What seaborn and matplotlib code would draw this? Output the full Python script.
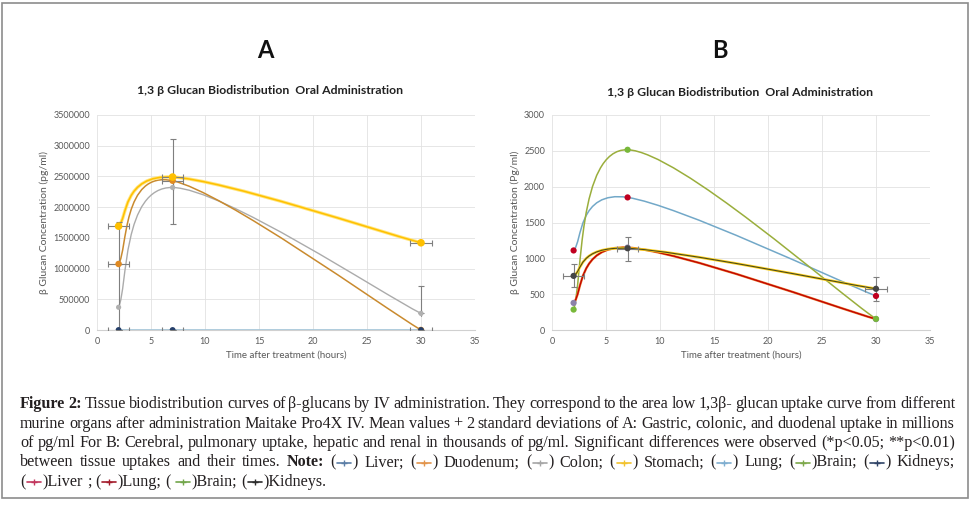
import re
import numpy as np
import pandas as pd
import matplotlib
matplotlib.use("Agg")
import matplotlib.pyplot as plt
import seaborn as sns
from matplotlib.path import Path
from matplotlib.patches import PathPatch, Rectangle
from matplotlib.lines import Line2D
from matplotlib.ticker import FuncFormatter

# ---- data ------------------------------------------------------------------
time_h = [2, 7, 30]

# panel A, pg/ml
a_stomach = [1690000, 2490000, 1420000]
a_duodenum = [1075000, 2430000, 0]
a_colon = [370000, 2320000, 270000]
a_lung = [0, 0, 0]
a_liver = [0, 0, 0]

# panel B, pg/ml
b_lung = [1110, 1850, 475]
b_brain = [285, 2515, 155]
b_liver = [378, 1150, 152]
b_kidneys = [755, 1140, 575]

# error bars: x, y, x error, y error below, y error above
a_err_x = [2, 2, 2, 7, 7, 7, 7, 30, 30, 30]
a_err_y = [1690000, 1075000, 0, 2490000, 2430000, 2320000, 0, 1420000, 270000, 0]
a_err_dx = [1, 1, 1, 1, 1, 0, 1, 1, 0, 1]
a_err_lo = [1690000, 0, 0, 0, 0, 600000, 0, 0, 0, 0]
a_err_hi = [70000, 0, 0, 0, 0, 790000, 0, 0, 440000, 0]

b_err_x = [2, 7, 30]
b_err_y = [755, 1135, 575]
b_err_dx = [1, 1, 1]
b_err_lo = [160, 170, 165]
b_err_hi = [160, 165, 165]

a_ticks = [0, 500000, 1000000, 1500000, 2000000, 2500000, 3000000, 3500000]
b_ticks = [0, 500, 1000, 1500, 2000, 2500, 3000]
x_ticks = [0, 5, 10, 15, 20, 25, 30, 35]

title_text = "1,3 \u03b2 Glucan Biodistribution  Oral Administration"

caption_lines = [
    "Figure 2: Tissue biodistribution curves of \u03b2-glucans by IV administration. They correspond to the area low 1,3\u03b2- glucan uptake curve from different",
    "murine organs after administration Maitake Pro4X IV. Mean values + 2 standard deviations of A: Gastric, colonic, and duodenal uptake in millions",
    "of pg/ml For B: Cerebral, pulmonary uptake, hepatic and renal in thousands of pg/ml. Significant differences were observed (*p<0.05; **p<0.01)",
    "between tissue uptakes and their times. Note: ({0}) Liver; ({1}) Duodenum; ({2}) Colon; ({3}) Stomach; ({4}) Lung; ({5})Brain; ({6}) Kidneys;",
    "({7})Liver ; ({8})Lung; ( {9})Brain; ({10})Kidneys.",
]
caption_bold = ["Figure", "2:", "Note:"]
caption_sym_colors = ["#5b7ea6", "#e2944b", "#a6a6a6", "#f2c22e", "#7faed0",
                      "#7da84a", "#2f4366", "#c2375e", "#a31b2b", "#72a64a", "#2b2b2b"]

W, H = 971, 507


def fx(px):
    return px / W


def fy(py):
    return 1 - py / H


def smooth_path(xs, ys):
    # Excel style smoothed line (Catmull-Rom as cubic Bezier)
    pts = [np.array([x, y], dtype=float) for x, y in zip(xs, ys)]
    verts = [pts[0]]
    codes = [Path.MOVETO]
    n = len(pts)
    for i in range(n - 1):
        p0 = pts[i - 1] if i > 0 else pts[i]
        p1, p2 = pts[i], pts[i + 1]
        p3 = pts[i + 2] if i + 2 < n else p2
        verts += [p1 + (p2 - p0) / 6, p2 - (p3 - p1) / 6, p2]
        codes += [Path.CURVE4] * 3
    return Path(verts, codes)


def draw_curve(ax, ys, color, lw, z=3):
    ax.add_patch(PathPatch(smooth_path(time_h, ys), facecolor="none",
                           edgecolor=color, lw=lw, zorder=z, capstyle="round"))


def style_axes(ax, ticks, ylabel, fmt):
    ax.set_xlim(0, 35)
    ax.set_ylim(ticks[0], ticks[-1])
    ax.set_xticks(x_ticks)
    ax.set_yticks(ticks)
    ax.yaxis.set_major_formatter(FuncFormatter(fmt))
    ax.grid(True, color="#e2e2e2", lw=0.6)
    ax.set_axisbelow(True)
    for s in ["top", "right", "left"]:
        ax.spines[s].set_visible(False)
    ax.spines["bottom"].set_color("#d0d0d0")
    ax.spines["bottom"].set_linewidth(0.8)
    ax.tick_params(length=0, labelsize=6.5, labelcolor="#595959", pad=5)
    ax.set_xlabel("Time after treatment (hours)", fontsize=7, color="#595959", labelpad=3)
    ax.set_ylabel(ylabel, fontsize=7.5, color="#595959", labelpad=3)


sns.set_style("white")
plt.rcParams["font.family"] = ["Lato", "DejaVu Sans"]

fig = plt.figure(figsize=(W / 100, H / 100), dpi=100)
fig.patch.set_facecolor("white")
fig.add_artist(Rectangle((fx(2), fy(498)), fx(966), 495 / H, transform=fig.transFigure,
                         facecolor="none", edgecolor="#8c8c8c", lw=1.2))

ax_a = fig.add_axes([fx(97), fy(330), fx(378), (330 - 115) / H])
ax_b = fig.add_axes([fx(552), fy(330), fx(378), (330 - 115) / H])

# ---- panel A ---------------------------------------------------------------
draw_curve(ax_a, a_lung, "#a9c8da", 1.3, z=2.6)
draw_curve(ax_a, a_colon, "#ababab", 1.0)
draw_curve(ax_a, a_duodenum, "#c98a2e", 1.1)
draw_curve(ax_a, a_stomach, "#ffe680", 2.4)
draw_curve(ax_a, a_stomach, "#ffc000", 1.1)

ax_a.errorbar(a_err_x, a_err_y, xerr=a_err_dx, yerr=[a_err_lo, a_err_hi], fmt="none",
              ecolor="#7f7f7f", elinewidth=0.8, capsize=2.5, capthick=0.8, zorder=4)

df_a = pd.DataFrame({
    "time": time_h * 4,
    "conc": a_colon + a_duodenum + a_stomach + a_liver,
    "organ": ["Colon"] * 3 + ["Duodenum"] * 3 + ["Stomach"] * 3 + ["Liver"] * 3,
})
sns.scatterplot(data=df_a, x="time", y="conc", hue="organ", size="organ",
                palette={"Colon": "#b0b0b0", "Duodenum": "#e08a22", "Stomach": "#ffc000", "Liver": "#26406a"},
                sizes={"Colon": 14, "Duodenum": 22, "Stomach": 30, "Liver": 18},
                edgecolor="none", legend=False, ax=ax_a, zorder=5)
style_axes(ax_a, a_ticks, "\u03b2 Glucan Concentration (pg/ml)", lambda v, p: f"{v:.0f}")

# ---- panel B ---------------------------------------------------------------
draw_curve(ax_b, b_lung, "#72a8c8", 1.1)
draw_curve(ax_b, b_brain, "#9aae3c", 1.1)
draw_curve(ax_b, b_liver, "#e8742a", 1.7)
draw_curve(ax_b, b_liver, "#c00000", 0.9)
draw_curve(ax_b, b_kidneys, "#ffd21f", 1.9)
draw_curve(ax_b, b_kidneys, "#4a4a1a", 0.8)

ax_b.errorbar(b_err_x, b_err_y, xerr=b_err_dx, yerr=[b_err_lo, b_err_hi], fmt="none",
              ecolor="#7f7f7f", elinewidth=0.8, capsize=2.5, capthick=0.8, zorder=4)

df_b = pd.DataFrame({
    "time": time_h * 4,
    "conc": b_liver + b_lung + b_kidneys + b_brain,
    "organ": ["Liver"] * 3 + ["Lung"] * 3 + ["Kidneys"] * 3 + ["Brain"] * 3,
})
sns.scatterplot(data=df_b, x="time", y="conc", hue="organ",
                palette={"Liver": "#8c82a8", "Lung": "#c00020", "Kidneys": "#454545", "Brain": "#78b83a"},
                s=20, edgecolor="none", legend=False, ax=ax_b, zorder=5)
style_axes(ax_b, b_ticks, "\u03b2 Glucan Concentration (Pg/ml)", lambda v, p: f"{v:.0f}")

# ---- titles ---------------------------------------------------------------
fig.text(fx(265), fy(50), "A", ha="center", va="center", fontsize=17, fontweight="bold", color="#111111")
fig.text(fx(720), fy(50), "B", ha="center", va="center", fontsize=17, fontweight="bold", color="#111111")
fig.text(fx(270), fy(91), title_text, ha="center", va="center", fontsize=8.8, fontweight="bold", color="#222222")
fig.text(fx(740), fy(93), title_text, ha="center", va="center", fontsize=8.8, fontweight="bold", color="#222222")

# ---- caption with inline legend symbols ---------------------------------
renderer = fig.canvas.get_renderer()
cap_font = dict(fontsize=11.6, family=["Liberation Serif", "DejaVu Serif"], color="#231f20")
sym_w = 17
cap_left, cap_right = 20, 955
cap_y = [404, 423.5, 443, 462.5, 482]


def text_width(s, bold):
    t = fig.text(0, 0, s, fontweight="bold" if bold else "normal", **cap_font)
    w = t.get_window_extent(renderer).width
    t.remove()
    return w


space_w = text_width("a a", False) - text_width("aa", False)

for li, line in enumerate(caption_lines):
    words = line.split(" ")
    items = []
    for w in words:
        bold = w in caption_bold
        parts = [p for p in re.split(r"(\{\d+\})", w) if p]
        widths = [sym_w if re.fullmatch(r"\{\d+\}", p) else text_width(p, bold) for p in parts]
        items.append((parts, widths, bold))
    total = sum(sum(wd) for _, wd, _ in items)
    justify = li < len(caption_lines) - 1
    gap = (cap_right - cap_left - total) / (len(items) - 1) if justify else space_w
    x = cap_left
    base = cap_y[li] + 4
    for parts, widths, bold in items:
        for p, wd in zip(parts, widths):
            m = re.fullmatch(r"\{(\d+)\}", p)
            if m:
                c = caption_sym_colors[int(m.group(1))]
                ym = fy(base - 4)
                fig.add_artist(Line2D([fx(x + 1.5), fx(x + wd - 1.5)], [ym, ym], color=c, lw=1.2,
                                      transform=fig.transFigure))
                fig.add_artist(Line2D([fx(x + wd / 2)], [ym], color=c, marker="+", ms=4, mew=1,
                                      transform=fig.transFigure))
            else:
                fig.text(fx(x), fy(base), p, ha="left", va="baseline",
                         fontweight="bold" if bold else "normal", **cap_font)
            x += wd
        x += gap

fig.savefig("out.png", dpi=100)
